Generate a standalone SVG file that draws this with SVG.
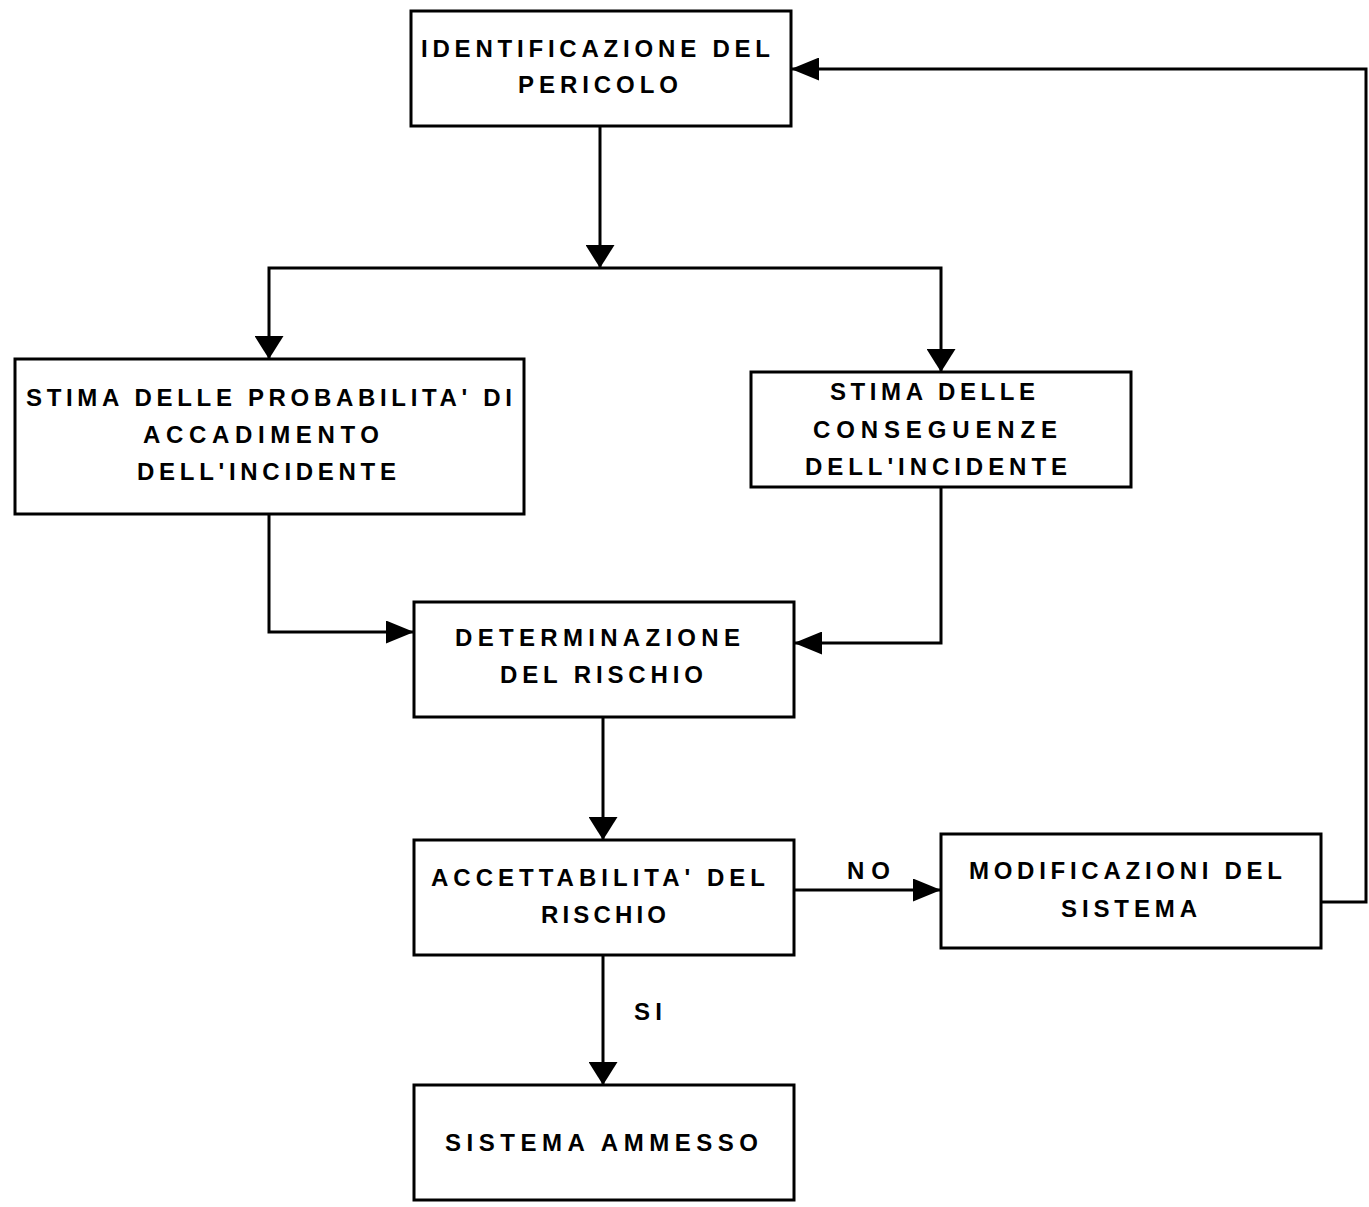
<svg xmlns="http://www.w3.org/2000/svg" width="1369" height="1207" viewBox="0 0 1369 1207">
  <style>
    .box { fill: #ffffff; stroke: #000000; stroke-width: 3; }
    .lbl { font-family: "Liberation Sans", Arial, sans-serif; font-size: 24px; font-weight: bold; fill: #000000; }
    .wire { fill: none; stroke: #000000; stroke-width: 3; }
  </style>
  <defs>
    <!-- vertical flow arrowheads are short and wide, horizontal ones long and narrow -->
    <marker id="arrow-v" markerUnits="userSpaceOnUse" markerWidth="23" markerHeight="29" refX="23" refY="14.5" orient="auto">
      <path d="M0,0 L23,14.5 L0,29 Z" fill="#000000"/>
    </marker>
    <marker id="arrow-h" markerUnits="userSpaceOnUse" markerWidth="28" markerHeight="23" refX="28" refY="11.5" orient="auto">
      <path d="M0,0 L28,11.5 L0,23 Z" fill="#000000"/>
    </marker>
  </defs>

  <rect width="1369" height="1207" fill="#ffffff"/>

  <g id="connectors">
    <path class="wire" d="M600,126 V268" marker-end="url(#arrow-v)"/>
    <path class="wire" d="M600,268 H269 V359" marker-end="url(#arrow-v)"/>
    <path class="wire" d="M600,268 H941 V372" marker-end="url(#arrow-v)"/>
    <path class="wire" d="M269,514 V632 H414" marker-end="url(#arrow-h)"/>
    <path class="wire" d="M941,487 V643 H794" marker-end="url(#arrow-h)"/>
    <path class="wire" d="M603,717 V840" marker-end="url(#arrow-v)"/>
    <path class="wire" d="M603,955 V1085" marker-end="url(#arrow-v)"/>
    <path class="wire" d="M794,890 H941" marker-end="url(#arrow-h)"/>
    <path class="wire" d="M1321,902 H1366 V69 H791" marker-end="url(#arrow-h)"/>
    <text class="lbl" x="847" y="879" textLength="43" lengthAdjust="spacing">NO</text>
    <text class="lbl" x="634" y="1020" textLength="28" lengthAdjust="spacing">SI</text>
  </g>

  <g id="identificazione">
    <rect class="box" x="411" y="11" width="380" height="115"/>
    <text class="lbl" x="421" y="57" textLength="349" lengthAdjust="spacing">IDENTIFICAZIONE DEL</text>
    <text class="lbl" x="518" y="93" textLength="160" lengthAdjust="spacing">PERICOLO</text>
  </g>

  <g id="stima-probabilita">
    <rect class="box" x="15" y="359" width="509" height="155"/>
    <text class="lbl" x="26" y="406" textLength="486" lengthAdjust="spacing">STIMA DELLE PROBABILITA' DI</text>
    <text class="lbl" x="143" y="443" textLength="236" lengthAdjust="spacing">ACCADIMENTO</text>
    <text class="lbl" x="137" y="480" textLength="259" lengthAdjust="spacing">DELL'INCIDENTE</text>
  </g>

  <g id="stima-conseguenze">
    <rect class="box" x="751" y="372" width="380" height="115"/>
    <text class="lbl" x="830" y="400" textLength="205" lengthAdjust="spacing">STIMA DELLE</text>
    <text class="lbl" x="813" y="438" textLength="244" lengthAdjust="spacing">CONSEGUENZE</text>
    <text class="lbl" x="805" y="475" textLength="262" lengthAdjust="spacing">DELL'INCIDENTE</text>
  </g>

  <g id="determinazione">
    <rect class="box" x="414" y="602" width="380" height="115"/>
    <text class="lbl" x="455" y="646" textLength="285" lengthAdjust="spacing">DETERMINAZIONE</text>
    <text class="lbl" x="500" y="683" textLength="203" lengthAdjust="spacing">DEL RISCHIO</text>
  </g>

  <g id="accettabilita">
    <rect class="box" x="414" y="840" width="380" height="115"/>
    <text class="lbl" x="431" y="886" textLength="334" lengthAdjust="spacing">ACCETTABILITA' DEL</text>
    <text class="lbl" x="541" y="923" textLength="125" lengthAdjust="spacing">RISCHIO</text>
  </g>

  <g id="modificazioni">
    <rect class="box" x="941" y="834" width="380" height="114"/>
    <text class="lbl" x="969" y="879" textLength="313" lengthAdjust="spacing">MODIFICAZIONI DEL</text>
    <text class="lbl" x="1061" y="917" textLength="136" lengthAdjust="spacing">SISTEMA</text>
  </g>

  <g id="sistema-ammesso">
    <rect class="box" x="414" y="1085" width="380" height="115"/>
    <text class="lbl" x="445" y="1151" textLength="313" lengthAdjust="spacing">SISTEMA AMMESSO</text>
  </g>
</svg>
